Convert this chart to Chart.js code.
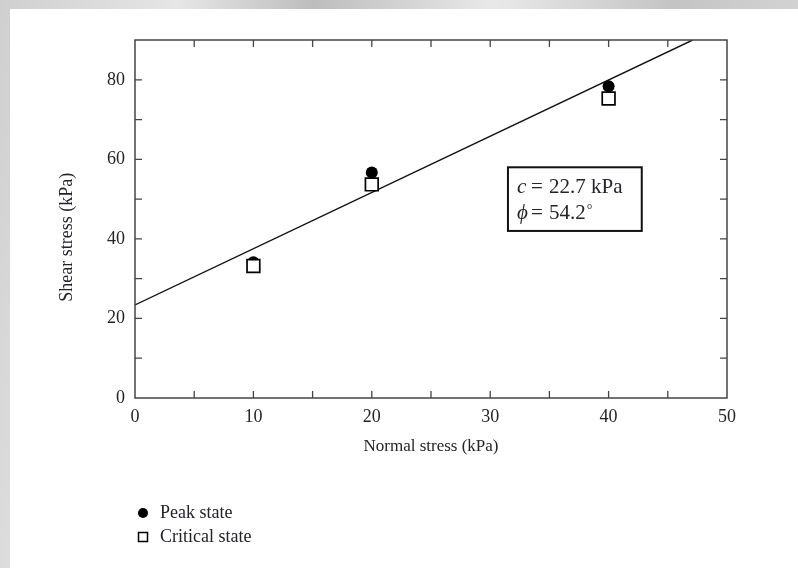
<!DOCTYPE html>
<html>
<head>
<meta charset="utf-8">
<script src="https://cdn.jsdelivr.net/npm/chart.js@4"></script>
<style>
  html, body { margin: 0; padding: 0; }
  body {
    width: 798px; height: 568px; overflow: hidden; position: relative;
    background: linear-gradient(100deg, #cfcfcf 0%, #e6e6e6 20%, #bdbdbd 35%, #e9e9e9 55%, #c4c4c4 75%, #dedede 100%);
  }
  #panel { position: absolute; left: 10px; top: 9px; width: 788px; height: 559px; background: #fff; }
</style>
</head>
<body>
<div id="panel"><canvas id="chart" width="788" height="559"></canvas></div>
<script>
// Mohr-Coulomb shear test results
const normalStress = [10, 20, 40];
const peakShear = [34.1, 56.7, 78.4];
const criticalShear = [33.2, 53.7, 75.3];
const fitX = [0, 47.1];
const fitY = [23.4, 90];
const xTicks = [0, 10, 20, 30, 40, 50];
const yTicks = [0, 20, 40, 60, 80];

const serif = '"Liberation Serif", "DejaVu Serif", serif';
const ink = '#23232b';

// frame, inward ticks, y title, fit box and legend
const framePlugin = {
  id: 'frame',
  afterDraw(chart) {
    const { ctx, chartArea: a, scales: { x, y } } = chart;
    ctx.save();
    ctx.strokeStyle = '#444';
    ctx.lineWidth = 1.5;
    ctx.strokeRect(a.left, a.top, a.right - a.left, a.bottom - a.top);
    ctx.lineWidth = 1.3;
    ctx.beginPath();
    for (let v = 5; v < 50; v += 5) {
      const px = x.getPixelForValue(v);
      ctx.moveTo(px, a.bottom); ctx.lineTo(px, a.bottom - 7);
      ctx.moveTo(px, a.top); ctx.lineTo(px, a.top + 7);
    }
    for (let v = 10; v < 90; v += 10) {
      const py = y.getPixelForValue(v);
      ctx.moveTo(a.left, py); ctx.lineTo(a.left + 7, py);
      ctx.moveTo(a.right, py); ctx.lineTo(a.right - 7, py);
    }
    ctx.stroke();

    // y axis title, sitting a little below the plot centre as in the figure
    ctx.save();
    ctx.translate(57, y.getPixelForValue(40.4));
    ctx.rotate(-Math.PI / 2);
    ctx.fillStyle = ink;
    ctx.font = '18px ' + serif;
    ctx.textAlign = 'center';
    ctx.textBaseline = 'middle';
    ctx.fillText('Shear stress (kPa)', 0, 0);
    ctx.restore();

    // fitted parameters box
    const bx = x.getPixelForValue(31.5), by = y.getPixelForValue(58);
    const bw = x.getPixelForValue(42.8) - bx, bh = y.getPixelForValue(42) - by;
    ctx.lineWidth = 2;
    ctx.strokeStyle = '#111';
    ctx.strokeRect(bx, by, bw, bh);
    ctx.fillStyle = ink;
    ctx.textBaseline = 'alphabetic';
    ctx.textAlign = 'left';
    const eqX = bx + 23, numX = bx + 41;
    const rows = [['c', '22.7', ' kPa', by + 26], ['\u03d5', '54.2', '\u00b0', by + 52]];
    rows.forEach(([sym, num, unit, base]) => {
      ctx.font = 'italic 21px ' + serif;
      ctx.fillText(sym, bx + 9, base);
      ctx.font = '21px ' + serif;
      ctx.fillText('=', eqX, base);
      ctx.fillText(num, numX, base);
      const nw = ctx.measureText(num).width;
      if (unit === '\u00b0') {
        ctx.font = '14px ' + serif;
        ctx.fillText(unit, numX + nw + 1, base - 5);
      } else {
        ctx.fillText(unit, numX + nw, base);
      }
    });

    // legend below the plot
    const lx = 133, ly = 504;
    ctx.fillStyle = '#000';
    ctx.beginPath();
    ctx.arc(lx, ly, 5, 0, Math.PI * 2);
    ctx.fill();
    ctx.lineWidth = 1.5;
    ctx.strokeStyle = '#000';
    ctx.strokeRect(lx - 4.5, ly + 24 - 4.5, 9, 9);
    ctx.fillStyle = ink;
    ctx.font = '18px ' + serif;
    ctx.textBaseline = 'middle';
    ctx.fillText(chart.data.datasets[0].label, lx + 17, ly);
    ctx.fillText(chart.data.datasets[1].label, lx + 17, ly + 24);
    ctx.restore();
  }
};

new Chart(document.getElementById('chart'), {
  type: 'scatter',
  data: {
    datasets: [
      {
        label: 'Peak state',
        data: normalStress.map((v, i) => ({ x: v, y: peakShear[i] })),
        pointStyle: 'circle',
        pointRadius: 6,
        backgroundColor: '#000',
        borderColor: '#000',
        borderWidth: 0,
        order: 2
      },
      {
        label: 'Critical state',
        data: normalStress.map((v, i) => ({ x: v, y: criticalShear[i] })),
        pointStyle: 'rect',
        pointRadius: 9,
        backgroundColor: '#fff',
        borderColor: '#000',
        borderWidth: 1.7,
        order: 1
      },
      {
        label: 'Fit',
        type: 'line',
        data: fitX.map((v, i) => ({ x: v, y: fitY[i] })),
        borderColor: '#111',
        borderWidth: 1.4,
        pointRadius: 0,
        fill: false,
        order: 3
      }
    ]
  },
  options: {
    responsive: false,
    animation: false,
    layout: { padding: { left: 0, top: 31, right: 71, bottom: 90 } },
    plugins: { legend: { display: false }, tooltip: { enabled: false } },
    scales: {
      x: {
        type: 'linear', min: 0, max: 50,
        afterBuildTicks: s => { s.ticks = xTicks.map(v => ({ value: v })); },
        afterFit: s => { s.height = 80; },
        grid: { display: false },
        border: { display: false },
        ticks: { color: ink, font: { family: serif, size: 18 }, padding: 0 },
        title: { display: true, text: 'Normal stress (kPa)', color: ink, font: { family: serif, size: 17 }, padding: { bottom: 21 } }
      },
      y: {
        type: 'linear', min: 0, max: 90,
        afterBuildTicks: s => { s.ticks = yTicks.map(v => ({ value: v })); },
        afterFit: s => { s.width = 125; },
        grid: { display: false },
        border: { display: false },
        ticks: { color: ink, font: { family: serif, size: 18 }, padding: 2 }
      }
    }
  },
  plugins: [framePlugin]
});
</script>
</body>
</html>
